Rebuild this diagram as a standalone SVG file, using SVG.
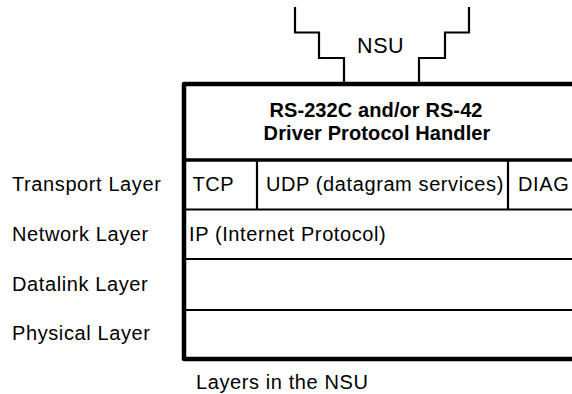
<svg xmlns="http://www.w3.org/2000/svg" width="572" height="394" viewBox="0 0 572 394">
  <style>
    .t { font-family: "Liberation Sans", Arial, sans-serif; font-size: 20px; fill: #000; letter-spacing: 0.6px; }
    .b { font-weight: bold; letter-spacing: 0.1px; }
    .frame { fill: none; stroke: #000; stroke-width: 4.5; stroke-linejoin: round; stroke-linecap: butt; }
    .thick { fill: none; stroke: #000; stroke-width: 3.5; }
    .thin { fill: none; stroke: #000; stroke-width: 2.2; }
    .wire { fill: none; stroke: #000; stroke-width: 2.2; stroke-linejoin: miter; }
  </style>
  <rect width="572" height="394" fill="#fff"/>

  <!-- serial lines feeding the NSU -->
  <g id="connectors">
    <path class="wire" d="M295,7 V32.5 H319 V58 H344 V84"/>
    <path class="wire" d="M469,7 V32.5 H445 V58 H419 V84"/>
  </g>

  <g id="nsu-label">
    <text class="t" x="357" y="53" style="font-size:21.5px">NSU</text>
  </g>

  <!-- outer frame of the protocol stack (open on the right) -->
  <g id="stack-frame">
    <path class="frame" d="M572,84 H184 V359 H572"/>
  </g>

  <g id="driver-handler">
    <text class="t b" x="376" y="117" text-anchor="middle">RS-232C and/or RS-42</text>
    <text class="t b" x="377" y="139.5" text-anchor="middle">Driver Protocol Handler</text>
    <line class="thick" x1="184" y1="160" x2="572" y2="160"/>
  </g>

  <g id="transport-row">
    <line class="thin" x1="257" y1="160" x2="257" y2="209.5"/>
    <line class="thin" x1="508" y1="160" x2="508" y2="209.5"/>
    <text class="t" x="192.5" y="191">TCP</text>
    <text class="t" x="266" y="191">UDP (datagram services)</text>
    <text class="t" x="518" y="191">DIAG</text>
    <line class="thin" x1="184" y1="209.5" x2="572" y2="209.5"/>
  </g>

  <g id="network-row">
    <text class="t" x="189" y="241">IP (Internet Protocol)</text>
    <line class="thin" x1="184" y1="259" x2="572" y2="259"/>
  </g>

  <g id="datalink-row">
    <line class="thin" x1="184" y1="310" x2="572" y2="310"/>
  </g>

  <g id="physical-row"></g>

  <g id="layer-names">
    <text class="t" x="12" y="191">Transport Layer</text>
    <text class="t" x="12" y="241">Network Layer</text>
    <text class="t" x="12" y="291">Datalink Layer</text>
    <text class="t" x="12" y="340">Physical Layer</text>
  </g>

  <g id="caption">
    <text class="t" x="196" y="389">Layers in the NSU</text>
  </g>
</svg>
